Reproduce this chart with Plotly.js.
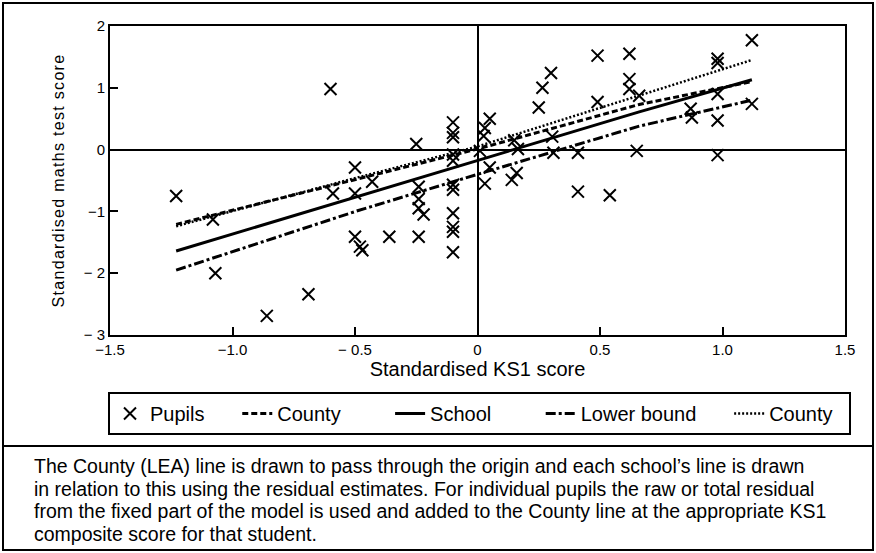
<!DOCTYPE html>
<html>
<head>
<meta charset="utf-8">
<script src="https://cdn.plot.ly/plotly-3.0.1.min.js"></script>
<style>html,body{margin:0;padding:0;background:#fff;}</style>
</head>
<body>
<div id="chart" style="width:876px;height:553px;"></div>
<script>
// Pupils (Standardised KS1 score, Standardised maths test score)
var pupilX = [-1.23,-1.08,-1.07,-0.86,-0.69,-0.60,-0.59,-0.50,-0.50,-0.43,-0.50,-0.48,-0.47,-0.36,
  -0.25,-0.24,-0.24,-0.24,-0.22,-0.24,-0.10,-0.10,-0.10,-0.10,-0.10,-0.10,-0.10,-0.10,-0.10,-0.10,-0.10,
  0.01,0.025,0.03,0.05,0.05,0.03,0.14,0.16,0.15,0.165,0.25,0.265,0.30,0.305,0.31,0.41,0.41,0.49,0.49,
  0.54,0.62,0.62,0.62,0.66,0.65,0.87,0.875,0.98,0.98,0.98,0.98,0.98,1.12,1.12];
var pupilY = [-0.75,-1.13,-2.00,-2.69,-2.34,0.98,-0.71,-0.29,-0.71,-0.52,-1.41,-1.57,-1.63,-1.41,
  0.09,-0.60,-0.80,-0.95,-1.05,-1.41,0.44,0.27,0.20,-0.08,-0.18,-0.57,-0.65,-1.03,-1.25,-1.33,-1.66,
  -0.02,0.22,0.35,0.50,-0.29,-0.55,-0.49,-0.38,0.15,0.01,0.68,1.00,1.24,0.21,-0.05,-0.05,-0.68,1.52,0.77,
  -0.74,1.55,1.14,0.98,0.87,-0.02,0.66,0.52,1.47,1.40,0.90,0.47,-0.09,1.77,0.74];

// Lines, read at these KS1 scores
var lineX = [-1.23, -0.49, 0.0, 0.66, 1.12];
var countyY = [-1.21, -0.47, 0.01, 0.73, 1.10];
var schoolY = [-1.64, -0.76, -0.17, 0.61, 1.13];
var lowerY  = [-1.95, -0.99, -0.40, 0.38, 0.80];
var county2Y = [-1.24, -0.45, 0.05, 0.88, 1.45];

var seriesNames = ["Pupils", "County", "School", "Lower bound", "County"];

var xTicks = [-1.5, -1.0, -0.5, 0, 0.5, 1.0, 1.5];
var xTickText = ["\u22121.5", "\u22121.0", "\u2212 0.5", "0", "0.5", "1.0", "1.5"];
var yTicks = [-3, -2, -1, 0, 1, 2];
var yTickText = ["\u2212 3", "\u2212 2", "\u22121", "0", "1", "2"];

var captionLines = [
  "The County (LEA) line is drawn to pass through the origin and each school\u2019s line is drawn",
  "in relation to this using the residual estimates. For individual pupils the raw or total residual",
  "from the fixed part of the model is used and added to the County line at the appropriate KS1",
  "composite score for that student."
];

// legend spacing: non-breaking spaces after each entry name
var NB = '\u00a0';
function pad(n){ return new Array(n + 1).join(NB); }
var legendPad = [5, 8, 8, 5, 2];

var traces = [
  {x: pupilX, y: pupilY, mode: 'markers', type: 'scatter', name: seriesNames[0] + pad(legendPad[0]),
   marker: {symbol: 'x-thin', size: 12, color: '#000', line: {width: 2, color: '#000'}}},
  {x: lineX, y: countyY, mode: 'lines', type: 'scatter', name: seriesNames[1] + pad(legendPad[1]),
   line: {color: '#000', width: 3, dash: '6px,3px'}},
  {x: lineX, y: schoolY, mode: 'lines', type: 'scatter', name: seriesNames[2] + pad(legendPad[2]),
   line: {color: '#000', width: 3, dash: 'solid'}},
  {x: lineX, y: lowerY, mode: 'lines', type: 'scatter', name: seriesNames[3] + pad(legendPad[3]),
   line: {color: '#000', width: 3, dash: '10px,3px,3px,3px'}},
  {x: lineX, y: county2Y, mode: 'lines', type: 'scatter', name: seriesNames[4] + pad(legendPad[4]),
   line: {color: '#000', width: 2.5, dash: '2px,2px'}}
];

// paper mapping helpers (plot area px: x 110..845, y 26..335)
function px(xp){ return (xp - 110) / 735; }
function py(yp){ return (335 - yp) / 309; }

var captionY = [466, 488.5, 511, 533.5];
var annotations = captionLines.map(function(t, i){
  return {xref: 'paper', yref: 'paper', x: px(32), y: py(captionY[i]), xanchor: 'left', yanchor: 'middle',
    align: 'left', showarrow: false, text: t,
    font: {family: 'Liberation Sans, Arial, sans-serif', size: 19.5}};
});

var layout = {
  width: 876, height: 553,
  margin: {l: 110, r: 31, t: 26, b: 218},
  paper_bgcolor: '#fff', plot_bgcolor: '#fff',
  font: {family: 'Liberation Sans, Arial, sans-serif', color: '#000'},
  showlegend: true,
  xaxis: {
    range: [-1.5, 1.5], tickmode: 'array', tickvals: xTicks, ticktext: xTickText,
    ticks: 'inside', ticklen: 8, tickwidth: 2, tickcolor: '#000',
    showline: true, linewidth: 2, linecolor: '#000', mirror: true,
    showgrid: false, zeroline: true, zerolinewidth: 2, zerolinecolor: '#000',
    tickfont: {family: 'Liberation Sans Narrow, Liberation Sans, sans-serif', size: 15},
    title: {text: 'Standardised KS1 score', standoff: 2,
            font: {family: 'Liberation Sans, Arial, sans-serif', size: 20}}
  },
  yaxis: {
    range: [-3, 2], tickmode: 'array', tickvals: yTicks, ticktext: yTickText,
    ticks: 'inside', ticklen: 8, tickwidth: 2, tickcolor: '#000',
    showline: true, linewidth: 2, linecolor: '#000', mirror: true,
    showgrid: false, zeroline: true, zerolinewidth: 2, zerolinecolor: '#000',
    tickfont: {family: 'Liberation Sans Narrow, Liberation Sans, sans-serif', size: 15},
    title: {text: 'Standardised maths test score', standoff: 15,
            font: {family: 'Liberation Sans Narrow, Liberation Sans, sans-serif', size: 16}}
  },
  legend: {
    orientation: 'h', x: px(108), xanchor: 'left', y: py(392), yanchor: 'top',
    bordercolor: '#000', borderwidth: 2, bgcolor: '#fff',
    font: {family: 'Liberation Sans, Arial, sans-serif', size: 20},
    itemwidth: 30, tracegroupgap: 0
  },
  shapes: [
    {type: 'rect', xref: 'paper', yref: 'paper', x0: px(3), x1: px(873), y0: py(3), y1: py(550),
     line: {color: '#000', width: 2}},
    {type: 'line', xref: 'paper', yref: 'paper', x0: px(3), x1: px(873), y0: py(446), y1: py(446),
     line: {color: '#000', width: 2}}
  ],
  annotations: annotations
};

Plotly.newPlot('chart', traces, layout, {staticPlot: true, displayModeBar: false}).then(function(){
  var yt = document.querySelector('.ytitle');
  if (yt) yt.style.letterSpacing = '1.3px';
});
</script>
</body>
</html>
